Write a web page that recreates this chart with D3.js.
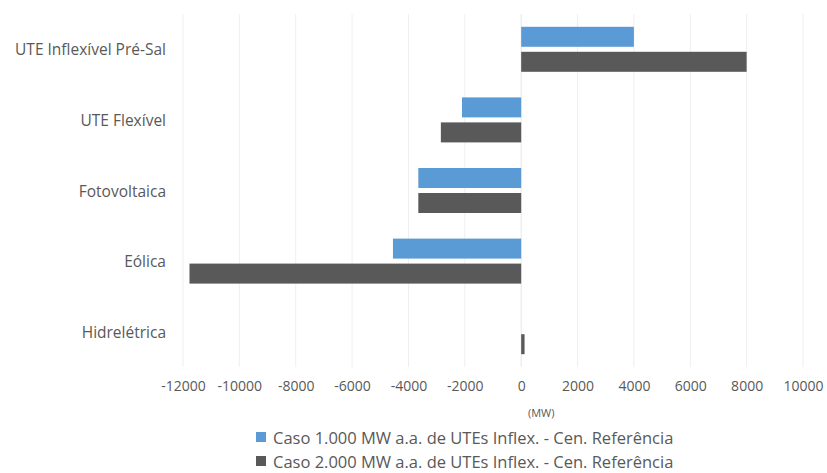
<!DOCTYPE html>
<html>
<head>
<meta charset="utf-8">
<script src="https://cdn.jsdelivr.net/npm/d3@7"></script>
<style>
  html, body { margin: 0; padding: 0; background: #fff; }
  svg { display: block; }
  text { font-family: "Open Sans", "Noto Sans", sans-serif; fill: #595959; }
</style>
</head>
<body>
<svg id="chart" width="827" height="473"></svg>
<script>
// Categories, top to bottom
const categories = ["UTE Inflexível Pré-Sal", "UTE Flexível", "Fotovoltaica", "Eólica", "Hidrelétrica"];

// Series names and values (MW)
const seriesNames = [
  "Caso 1.000 MW a.a. de UTEs Inflex. - Cen. Referência",
  "Caso 2.000 MW a.a. de UTEs Inflex. - Cen. Referência"
];
const caso1000 = [4000, -2100, -3650, -4550, 0];
const caso2000 = [8000, -2850, -3650, -11770, 120];

const xTicks = [-12000, -10000, -8000, -6000, -4000, -2000, 0, 2000, 4000, 6000, 8000, 10000];
const axisTitle = "(MW)";

const colors = ["#5b9bd5", "#595959"];

const svg = d3.select("#chart");

const x = d3.scaleLinear().domain([-12000, 10000]).range([183, 803]);
const y = d3.scaleBand().domain(categories).range([14, 367]);
const ySub = d3.scaleBand().domain(seriesNames)
  .range([12.8, y.bandwidth() - 12.8]).paddingInner(0.2);

// Vertical gridlines
svg.append("g")
  .selectAll("line")
  .data(xTicks)
  .join("line")
  .attr("x1", d => x(d)).attr("x2", d => x(d))
  .attr("y1", 14).attr("y2", 367)
  .attr("stroke", d => d === 0 ? "#e6e6e6" : "#efefef")
  .attr("stroke-width", 1);

// Bars
const rows = categories.map((c, i) => ({ cat: c, vals: [caso1000[i], caso2000[i]] }));
const groups = svg.append("g")
  .selectAll("g")
  .data(rows)
  .join("g")
  .attr("transform", d => `translate(0,${y(d.cat)})`);

groups.selectAll("rect")
  .data(d => d.vals.map((v, k) => ({ v, k })))
  .join("rect")
  .attr("x", d => Math.min(x(0), x(d.v)))
  .attr("width", d => Math.abs(x(d.v) - x(0)))
  .attr("y", d => ySub(seriesNames[d.k]))
  .attr("height", ySub.bandwidth())
  .attr("fill", d => colors[d.k]);

// Category labels
svg.append("g")
  .selectAll("text")
  .data(categories)
  .join("text")
  .attr("x", 166)
  .attr("y", d => y(d) + y.bandwidth() / 2)
  .attr("text-anchor", "end")
  .attr("dominant-baseline", "central")
  .attr("font-size", 15.5)
  .text(d => d);

// X axis tick labels
const xAxis = d3.axisBottom(x).tickValues(xTicks).tickSize(0).tickPadding(0).tickFormat(d3.format("d"));
const gx = svg.append("g").attr("transform", "translate(0,381)").call(xAxis);
gx.select(".domain").remove();
gx.selectAll("text")
  .attr("font-size", 14)
  .attr("fill", "#595959")
  .attr("font-family", "\"Open Sans\", sans-serif")
  .text(d => d < 0 ? "-" + Math.abs(d) : d);

// Axis title
svg.append("text")
  .attr("x", x(0) + 20)
  .attr("y", 412)
  .attr("text-anchor", "middle")
  .attr("dominant-baseline", "central")
  .attr("font-size", 11)
  .text(axisTitle);

// Legend
const legend = svg.append("g")
  .selectAll("g")
  .data(seriesNames)
  .join("g")
  .attr("transform", (d, i) => `translate(256,${437 + i * 24})`);
legend.append("rect")
  .attr("x", 0).attr("y", -5).attr("width", 10).attr("height", 10)
  .attr("fill", (d, i) => colors[i]);
legend.append("text")
  .attr("x", 17).attr("y", 0)
  .attr("dominant-baseline", "central")
  .attr("font-size", 16.5)
  .text(d => d);
</script>
</body>
</html>
